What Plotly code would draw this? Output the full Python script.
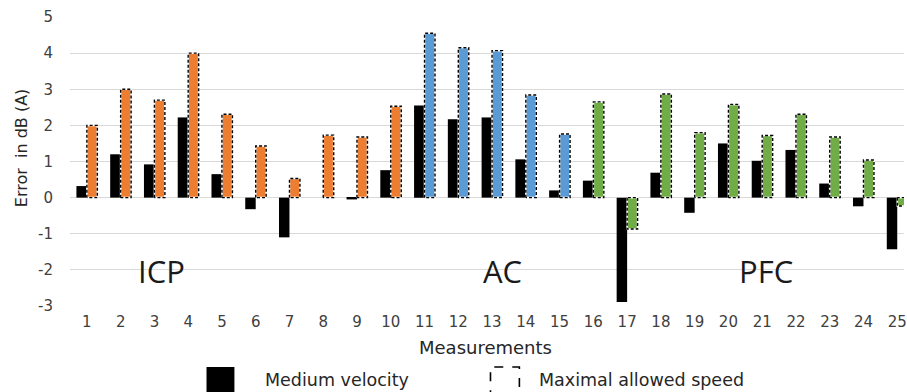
import plotly.graph_objects as go

# ---- data ----
measurements = list(range(1, 26))
tick_labels = [str(i) for i in measurements]
y_tick_vals = [-3, -2, -1, 0, 1, 2, 3, 4, 5]
y_tick_labels = ["-3", "-2", "-1", "0", "1", "2", "3", "4", "5"]
medium_velocity = [0.32, 1.2, 0.92, 2.22, 0.65, -0.32, -1.1, 0.0, -0.05, 0.76,
                   2.55, 2.17, 2.22, 1.06, 0.2,
                   0.47, -2.89, 0.69, -0.42, 1.5, 1.02, 1.32, 0.39, -0.24, -1.43]
max_allowed = [2.0, 3.0, 2.7, 4.0, 2.31, 1.43, 0.53, 1.73, 1.68, 2.53,
               4.55, 4.15, 4.07, 2.84, 1.76,
               2.65, -0.87, 2.87, 1.8, 2.58, 1.72, 2.31, 1.68, 1.04, -0.23]
groups = ["ICP"] * 10 + ["AC"] * 5 + ["PFC"] * 10
group_colors = {"ICP": "#ED7D31", "AC": "#5B9BD5", "PFC": "#70AD47"}
group_label_pos = {"ICP": 3.22, "AC": 13.3, "PFC": 21.1}

W, H = 907, 392
L, R, T, B = 70, 0, 17, 86
PW, PH = W - L - R, H - T - B

def px2x(px):
    return (px - L) / PW

def py2y(py):
    return (H - B - py) / PH

bw = 0.31
fig = go.Figure()
fig.add_trace(go.Bar(x=measurements, y=medium_velocity, width=bw, offset=-bw,
                     marker=dict(color="black", line=dict(width=0)),
                     name="Medium velocity", showlegend=False))
fig.add_trace(go.Bar(x=measurements, y=max_allowed, width=bw, offset=0,
                     marker=dict(color=[group_colors[g] for g in groups],
                                 line=dict(width=0)),
                     name="Maximal allowed speed", showlegend=False))

# dashed outlines of the coloured bars
ox, oy = [], []
for m, v in zip(measurements, max_allowed):
    ox += [m, m, m + bw, m + bw, m, None]
    oy += [0, v, v, 0, 0, None]
fig.add_trace(go.Scatter(x=ox, y=oy, mode="lines", line=dict(color="white", width=1.6),
                         hoverinfo="skip", showlegend=False))
fig.add_trace(go.Scatter(x=ox, y=oy, mode="lines",
                         line=dict(color="black", width=1.4, dash="3px,2px"),
                         hoverinfo="skip", showlegend=False))

txt_font = "DejaVu Sans, sans-serif"
big_font = "Open Sans, sans-serif"
tick_color = "#404040"
text_color = "#262626"

for g, xp in group_label_pos.items():
    fig.add_annotation(x=xp, y=-2.02, text=g, showarrow=False,
                       xanchor="center", yanchor="middle",
                       font=dict(size=31, color="#1a1a1a", family=big_font))

# axis titles
fig.add_annotation(xref="paper", yref="paper", x=px2x(22), y=py2y(148),
                   xanchor="center", yanchor="middle",
                   text="Error  in dB (A)", textangle=-90, showarrow=False,
                   font=dict(size=16, color=text_color, family=txt_font))
fig.add_annotation(xref="paper", yref="paper", x=px2x(487), y=py2y(347),
                   xanchor="center", yanchor="middle",
                   text="Measurements", showarrow=False,
                   font=dict(size=18, color=text_color, family=txt_font))

# manual legend
fig.add_shape(type="rect", xref="paper", yref="paper",
              x0=px2x(207), x1=px2x(235), y0=py2y(395), y1=py2y(367),
              fillcolor="black", line=dict(width=0))
fig.add_shape(type="rect", xref="paper", yref="paper",
              x0=px2x(492), x1=px2x(521), y0=py2y(394), y1=py2y(367),
              fillcolor="white", line=dict(color="black", width=1.6, dash="dash"))
fig.add_annotation(xref="paper", yref="paper", x=px2x(264), y=py2y(380),
                   xanchor="left", yanchor="middle", text="Medium velocity", showarrow=False,
                   font=dict(size=17.5, color=text_color, family=txt_font))
fig.add_annotation(xref="paper", yref="paper", x=px2x(539), y=py2y(380),
                   xanchor="left", yanchor="middle", text="Maximal allowed speed", showarrow=False,
                   font=dict(size=17.5, color=text_color, family=txt_font))

fig.update_layout(
    width=W, height=H,
    margin=dict(l=L, r=R, t=T, b=B),
    plot_bgcolor="white", paper_bgcolor="white",
    barmode="overlay",
    font=dict(family=txt_font, size=15, color=tick_color),
    xaxis=dict(range=[0.5, 25.2], tickvals=measurements, ticktext=tick_labels,
               showgrid=False, zeroline=False, showline=False, ticks="",
               ticklabeloverflow="allow",
               tickfont=dict(size=15, color=tick_color), ticklabelstandoff=5),
    yaxis=dict(range=[-3, 5], tickvals=y_tick_vals, ticktext=y_tick_labels,
               showgrid=True, gridcolor="#d9d9d9",
               gridwidth=1, zeroline=False, showline=False, ticks="",
               tickfont=dict(size=15, color=tick_color), ticklabelstandoff=16),
)

fig.write_html("out.html", config={"displayModeBar": False},
               post_script="document.body.style.margin='0';")
